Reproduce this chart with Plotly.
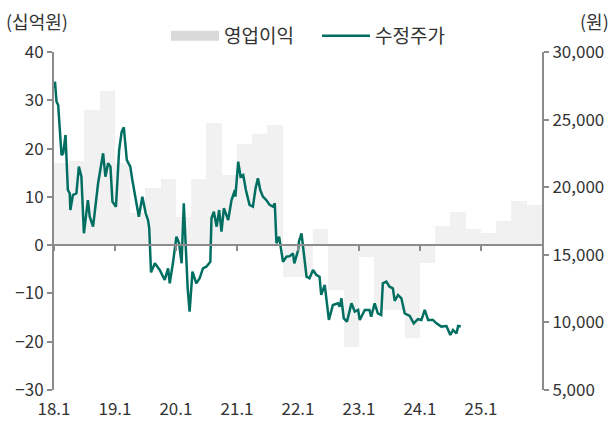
import plotly.graph_objects as go
import pandas as pd

# ---- data ----
quarters = ["2018Q1","2018Q2","2018Q3","2018Q4","2019Q1","2019Q2","2019Q3","2019Q4",
            "2020Q1","2020Q2","2020Q3","2020Q4","2021Q1","2021Q2","2021Q3","2021Q4",
            "2022Q1","2022Q2","2022Q3","2022Q4","2023Q1","2023Q2","2023Q3","2023Q4",
            "2024Q1","2024Q2","2024Q3","2024Q4","2025Q1","2025Q2","2025Q3","2025Q4"]
op_profit = [17.0, 17.4, 28.0, 32.0, 17.0, 6.6, 11.9, 13.6,
             5.9, 13.6, 25.2, 14.5, 21.0, 23.1, 24.8, -6.5,
             -6.5, 3.4, -9.3, -21.0, -2.4, -13.5, -13.5, -19.3,
             -3.7, 3.9, 6.8, 3.3, 2.6, 5.0, 9.1, 8.4]

price_dates = ["2018-01-02","2018-01-07","2018-01-16","2018-01-26","2018-02-15","2018-02-25","2018-03-11","2018-03-25",
               "2018-04-05","2018-04-09","2018-04-24","2018-05-15","2018-05-30","2018-06-14","2018-06-29","2018-07-23",
               "2018-08-03","2018-08-23","2018-09-22","2018-10-22","2018-11-05","2018-11-21","2018-12-05","2018-12-17",
               "2019-01-07","2019-01-26","2019-02-10","2019-02-23","2019-03-13","2019-04-03","2019-04-15","2019-05-09",
               "2019-05-24","2019-06-14","2019-07-04","2019-07-18","2019-07-25","2019-08-05","2019-08-28","2019-09-26",
               "2019-10-26","2019-11-15","2019-11-25","2019-12-14","2020-01-04","2020-01-20","2020-02-04","2020-02-17",
               "2020-03-03","2020-03-12","2020-03-23","2020-04-09","2020-05-02","2020-05-22","2020-06-11","2020-07-01",
               "2020-07-25","2020-08-01","2020-08-15","2020-09-01","2020-09-16","2020-09-30","2020-10-14","2020-11-09",
               "2020-11-29","2020-12-19","2020-12-22","2021-01-08","2021-01-22","2021-02-07","2021-02-23","2021-03-17",
               "2021-04-06","2021-04-22","2021-05-06","2021-05-20","2021-06-05","2021-06-25","2021-07-15","2021-08-04",
               "2021-08-15","2021-08-25","2021-09-10","2021-10-03","2021-10-24","2021-11-13","2021-12-02","2021-12-10",
               "2022-01-02","2022-01-07","2022-01-22","2022-02-01","2022-02-21","2022-03-11","2022-04-01","2022-04-21",
               "2022-05-10","2022-05-20","2022-06-10","2022-07-05","2022-07-29","2022-08-28","2022-09-08","2022-09-18",
               "2022-10-02","2022-10-21","2022-11-17","2022-12-07","2022-12-27","2023-01-06","2023-02-05","2023-03-05",
               "2023-03-15","2023-04-05","2023-04-24","2023-05-14","2023-05-24","2023-06-14","2023-07-03","2023-07-23",
               "2023-08-03","2023-08-23","2023-09-12","2023-10-02","2023-11-01","2023-11-25","2023-12-20","2024-01-10",
               "2024-01-30","2024-02-19","2024-03-19","2024-04-09","2024-05-08","2024-06-08","2024-07-01","2024-07-17",
               "2024-08-07","2024-08-17","2024-09-02"]
price = [27300, 27800, 26330, 26080, 22380, 22500, 23860, 19800,
         19550, 18310, 19420, 19550, 21520, 20780, 16590, 19050,
         17820, 17080, 20290, 22510, 20780, 21770, 21520, 18930,
         18560, 22750, 24100, 24430, 22010, 21520, 20530, 18690,
         17820, 19300, 18070, 17570, 17000, 13700, 14370, 13880,
         13140, 14000, 12890, 14370, 16340, 15850, 14370, 18800,
         14620, 12400, 10800, 13750, 12890, 13260, 14000, 14120,
         14490, 17700, 18190, 17080, 18310, 16710, 18440, 17570,
         19050, 19790, 19300, 21890, 20780, 20900, 19790, 18690,
         18560, 19920, 20660, 19790, 19300, 19050, 18690, 18560,
         18810, 15850, 16340, 14490, 14860, 14900, 15110, 14370,
         15350, 16000, 16590, 15350, 13380, 13260, 13880, 13510,
         13380, 12030, 12770, 10180, 11290, 11410, 11160, 11780,
         10300, 10050, 11410, 10800, 10920, 10180, 10920, 10920,
         10420, 11410, 10670, 10550, 12890, 13010, 12640, 12520,
         11600, 12030, 11780, 10670, 10480, 9930, 10240, 10180,
         10920, 10180, 10180, 9930, 9690, 9730, 9070, 9440,
         9190, 9730, 9690]

year_ticks = ["2018-01-01","2019-01-01","2020-01-01","2021-01-01","2022-01-01","2023-01-01","2024-01-01","2025-01-01"]
year_labels = ["18.1","19.1","20.1","21.1","22.1","23.1","24.1","25.1"]
left_ticks = [-30, -20, -10, 0, 10, 20, 30, 40]
right_ticks = [5000, 10000, 15000, 20000, 25000, 30000]

# ---- build ----
qp = pd.PeriodIndex(quarters, freq="Q")
q_start = qp.start_time
q_end = (qp + 1).start_time
q_mid = q_start + (q_end - q_start) / 2
q_width = [(e - s).total_seconds() * 1000 for s, e in zip(q_start, q_end)]

FONT = "Noto Sans CJK KR"
TXT = "#333333"
AX = "#8c8c8c"
TEAL = "#006f62"
BAR = "#f0f0f0"

fig = go.Figure()
fig.add_trace(go.Bar(
    x=q_mid, y=op_profit, width=q_width, name="영업이익", showlegend=False,
    marker=dict(color=BAR, line=dict(width=0),
                pattern=dict(shape="|", fgcolor="#ffffff", bgcolor=BAR, size=4, solidity=0.15)),
    yaxis="y", xaxis="x",
))
# legend swatch for the bars (wide grey block, as in the reference)
fig.add_trace(go.Scatter(
    x=[None], y=[None], name="영업이익", mode="lines",
    line=dict(color="#d9d9d9", width=10), yaxis="y", xaxis="x", hoverinfo="skip",
))
fig.add_trace(go.Scatter(
    x=price_dates, y=price, name="수정주가", mode="lines",
    line=dict(color=TEAL, width=2.5), yaxis="y2", xaxis="x",
))
# invisible helper on the zero-line axis
fig.add_trace(go.Scatter(x=[year_ticks[0]], y=[0], xaxis="x2", yaxis="y",
                         mode="markers", marker=dict(opacity=0), showlegend=False, hoverinfo="skip"))

xr = ["2018-01-01", "2026-01-01"]
zero_pos = (0 - left_ticks[0]) / (left_ticks[-1] - left_ticks[0])

L, R, T, B = 54, 72, 52, 38
W, H = 614, 428
pw = W - L - R
TICK_SIZE = 17

fig.update_layout(
    width=W, height=H,
    margin=dict(l=L, r=R, t=T, b=B, autoexpand=False),
    paper_bgcolor="white", plot_bgcolor="white",
    font=dict(family=FONT, size=TICK_SIZE, color=TXT),
    bargap=0,
    showlegend=True,
    legend=dict(orientation="h", xref="container", yref="container",
                x=166 / W, xanchor="left", y=1 - 36 / H, yanchor="middle",
                font=dict(size=19, color=TXT), itemwidth=48,
                entrywidth=88, entrywidthmode="pixels", traceorder="normal",
                bgcolor="rgba(0,0,0,0)"),
    xaxis=dict(range=xr, type="date", tickvals=year_ticks, ticktext=year_labels,
               showline=False, showgrid=False, zeroline=False, automargin=False,
               ticks="outside", ticklen=4, tickcolor="rgba(0,0,0,0)",
               tickfont=dict(size=TICK_SIZE, color=TXT)),
    xaxis2=dict(range=xr, type="date", overlaying="x", anchor="free", position=zero_pos,
                tickvals=year_ticks, showticklabels=False, showgrid=False, zeroline=False,
                showline=True, linecolor=AX, linewidth=2, automargin=False,
                ticks="outside", ticklen=5, tickwidth=2, tickcolor=AX),
    yaxis=dict(range=[left_ticks[0], left_ticks[-1]], tickvals=left_ticks,
               showgrid=False, zeroline=False, showline=True, linecolor=AX, linewidth=2,
               ticks="outside", ticklen=5, tickwidth=2, tickcolor=AX, automargin=False,
               tickfont=dict(size=TICK_SIZE, color=TXT)),
    yaxis2=dict(range=[right_ticks[0], right_ticks[-1]], tickvals=right_ticks, tickformat=",d",
                overlaying="y", side="right", showgrid=False, zeroline=False,
                showline=True, linecolor=AX, linewidth=2, automargin=False,
                ticks="outside", ticklen=5, tickwidth=2, tickcolor=AX,
                tickfont=dict(size=TICK_SIZE, color=TXT)),
    annotations=[
        dict(text="(십억원)", xref="paper", yref="paper", x=(4 - L) / pw, y=1 + (T - 21) / (H - T - B),
             xanchor="left", yanchor="middle", showarrow=False, font=dict(size=18, color=TXT)),
        dict(text="(원)", xref="paper", yref="paper", x=(611 - L) / pw, y=1 + (T - 21) / (H - T - B),
             xanchor="right", yanchor="middle", showarrow=False, font=dict(size=18, color=TXT)),
    ],
)

fig.write_html("out.html", config={"displayModeBar": False},
               post_script="document.body.style.margin='0';document.body.style.padding='0';document.body.style.overflow='hidden';")
